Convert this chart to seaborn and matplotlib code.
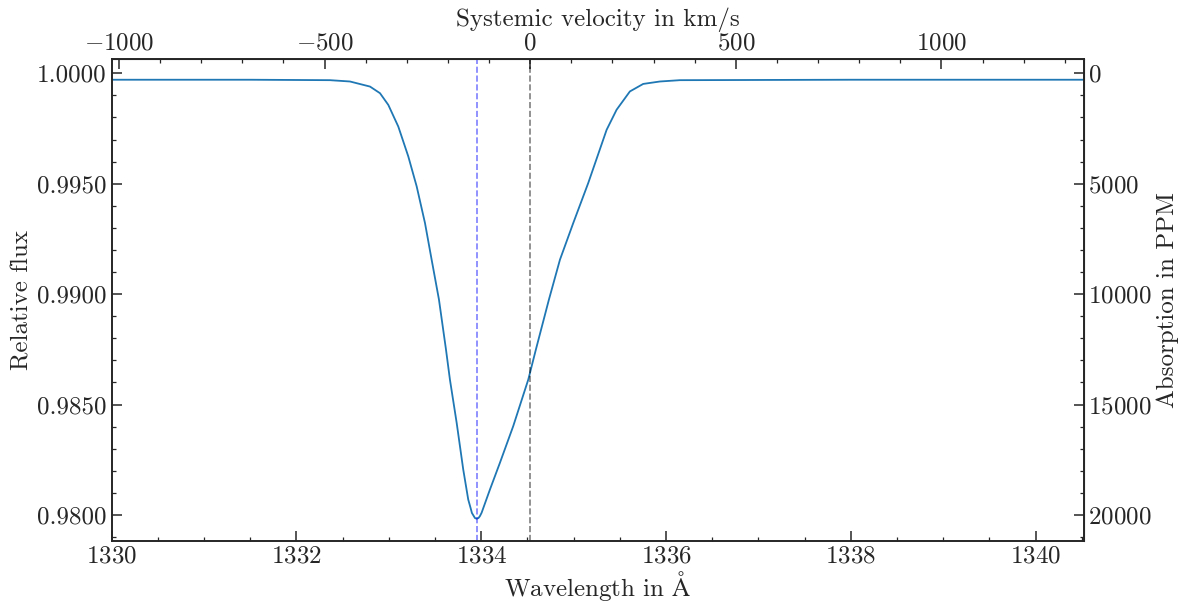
import numpy as np
import pandas as pd
import seaborn as sns
import matplotlib.pyplot as plt
from matplotlib.ticker import MultipleLocator, FormatStrFormatter

# line profile
wavelength = [1330.000, 1331.500, 1332.363, 1332.579, 1332.796, 1332.904, 1332.994,
              1333.102, 1333.210, 1333.301, 1333.391, 1333.463, 1333.542, 1333.618,
              1333.661, 1333.734, 1333.805, 1333.859, 1333.883, 1333.899, 1333.932,
              1333.950, 1333.970, 1333.986, 1334.004,
              1334.094, 1334.202, 1334.346, 1334.509, 1334.592, 1334.733, 1334.852,
              1334.996, 1335.158, 1335.357, 1335.465, 1335.609, 1335.753, 1335.934,
              1336.150, 1338.000, 1340.520]
flux = [0.99971, 0.99971, 0.99969, 0.99963, 0.99940, 0.99910, 0.99857,
        0.99759, 0.99624, 0.99488, 0.99322, 0.99156, 0.98976, 0.98750,
        0.98613, 0.98417, 0.98206, 0.98070, 0.98034, 0.98009, 0.97986,
        0.97983, 0.97986, 0.97995, 0.98010,
        0.98115, 0.98236, 0.98402, 0.98613, 0.98750, 0.98976, 0.99156,
        0.99322, 0.99503, 0.99744, 0.99835, 0.99918, 0.99952, 0.99963,
        0.99969, 0.99971, 0.99971]

rest_wavelength = 1334.53   # zero velocity
observed_center = 1333.95   # line minimum
c_kms = 299792.458

df = pd.DataFrame({"wavelength": wavelength, "flux": flux})

sns.set_style("ticks")
plt.rcParams["font.family"] = ["cmr10", "DejaVu Serif"]
plt.rcParams["mathtext.fontset"] = "cm"
plt.rcParams["axes.formatter.use_mathtext"] = True
plt.rcParams["axes.unicode_minus"] = True

fs = 18

fig = plt.figure(figsize=(11.81, 6.03), dpi=100)
ax = fig.add_axes([0.0946, 0.1028, 0.8229, 0.7994])

sns.lineplot(data=df, x="wavelength", y="flux", ax=ax, color="#1f77b4", lw=1.3)
ax.axvline(observed_center, color="blue", alpha=0.5, ls="--", lw=1.2)
ax.axvline(rest_wavelength, color="black", alpha=0.5, ls="--", lw=1.2)

ax.set_xlim(1330, 1340.52)
ax.set_ylim(0.97882, 1.00065)
ax.set_xlabel(r"Wavelength in $\mathrm{\AA}$", fontsize=fs, labelpad=1)
ax.set_ylabel("Relative flux", fontsize=fs, labelpad=3)
ax.xaxis.set_major_locator(MultipleLocator(2))
ax.xaxis.set_minor_locator(MultipleLocator(0.5))
ax.yaxis.set_major_locator(MultipleLocator(0.005))
ax.yaxis.set_minor_locator(MultipleLocator(0.001))
ax.yaxis.set_major_formatter(FormatStrFormatter("%.4f"))
ax.tick_params(which="both", direction="in", top=False, right=False, labelsize=fs)
ax.tick_params(which="major", length=7, width=1.1)
ax.tick_params(which="minor", length=3, width=0.9)
for s in ax.spines.values():
    s.set_linewidth(1.4)


def w2v(w):
    return (w - rest_wavelength) / rest_wavelength * c_kms


def v2w(v):
    return rest_wavelength * (1 + v / c_kms)


def f2ppm(f):
    return (1 - f) * 1e6


def ppm2f(p):
    return 1 - p / 1e6


top = ax.secondary_xaxis("top", functions=(w2v, v2w))
top.set_xlabel("Systemic velocity in km/s", fontsize=fs, labelpad=5)
top.xaxis.set_major_locator(MultipleLocator(500))
top.xaxis.set_minor_locator(MultipleLocator(100))
top.tick_params(which="both", direction="in", labelsize=fs, pad=3)
top.tick_params(which="major", length=7, width=1.1)
top.tick_params(which="minor", length=3, width=0.9)

right = ax.secondary_yaxis("right", functions=(f2ppm, ppm2f))
right.set_ylabel("Absorption in PPM", fontsize=fs, labelpad=3)
right.yaxis.set_major_locator(MultipleLocator(5000))
right.yaxis.set_minor_locator(MultipleLocator(1000))
right.tick_params(which="both", direction="in", labelsize=fs)
right.tick_params(which="major", length=7, width=1.1)
right.tick_params(which="minor", length=3, width=0.9)

fig.savefig("out.png", dpi=100)
